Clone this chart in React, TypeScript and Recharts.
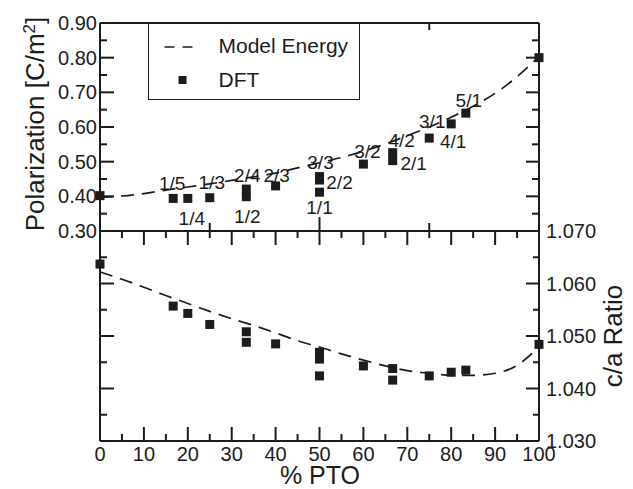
import React from 'react';
import { ComposedChart, Line, Scatter, XAxis, YAxis, Legend } from 'recharts';

const FONT = '"Liberation Sans", Arial, Helvetica, sans-serif';
const INK = '#1c1c1c';

// DFT supercells: % PTO, polarization (C/m^2), c/a ratio, layering label
const dftPto = [0, 16.67, 20, 25, 33.33, 33.33, 40, 50, 50, 50, 60, 66.67, 66.67, 75, 80, 83.33, 100];
const dftPolarization = [0.402, 0.394, 0.394, 0.396, 0.421, 0.399, 0.430, 0.457, 0.447, 0.412, 0.493, 0.526, 0.503, 0.568, 0.609, 0.640, 0.800];
const dftCaRatio = [1.0637, 1.0557, 1.0543, 1.0522, 1.0508, 1.0488, 1.0485, 1.0469, 1.0456, 1.0424, 1.0443, 1.0438, 1.0416, 1.0424, 1.0431, 1.0435, 1.0484];
const dftLabels = ['', '1/5', '1/4', '1/3', '2/4', '1/2', '2/3', '3/3', '2/2', '1/1', '3/2', '4/2', '2/1', '3/1', '4/1', '5/1', ''];

// model energy curves
const modelPto = [0, 5, 10, 15, 20, 25, 30, 35, 40, 45, 50, 55, 60, 65, 70, 75, 80, 85, 90, 95, 100];
const modelPolarization = [0.397, 0.401, 0.408, 0.418, 0.427, 0.436, 0.446, 0.456, 0.467, 0.482, 0.497, 0.512, 0.530, 0.551, 0.575, 0.600, 0.628, 0.660, 0.697, 0.745, 0.803];
const modelCaRatio = [1.0622, 1.0608, 1.0593, 1.0577, 1.0562, 1.0547, 1.0533, 1.0520, 1.0506, 1.0491, 1.0479, 1.0466, 1.0454, 1.0443, 1.0434, 1.0429, 1.0425, 1.0425, 1.0429, 1.0444, 1.0480];

// ticks
const ptoTicks = [0, 5, 10, 15, 20, 25, 30, 35, 40, 45, 50, 55, 60, 65, 70, 75, 80, 85, 90, 95, 100];
const ptoTicksTop = [25, 50, 75];
const polTicks = [0.3, 0.35, 0.4, 0.45, 0.5, 0.55, 0.6, 0.65, 0.7, 0.75, 0.8, 0.85, 0.9];
const caTicks = [1.03, 1.035, 1.04, 1.045, 1.05, 1.055, 1.06, 1.065, 1.07];

// where each layering label sits relative to its marker
const labelPlacement: Record<string, { dx: number; dy: number }> = {
  '1/5': { dx: -1, dy: -15 },
  '1/4': { dx: 4, dy: 20 },
  '1/3': { dx: 2, dy: -15 },
  '2/4': { dx: 1, dy: -14 },
  '1/2': { dx: 1, dy: 20 },
  '2/3': { dx: 1, dy: -11 },
  '3/3': { dx: 1, dy: -14 },
  '2/2': { dx: 20, dy: 2 },
  '1/1': { dx: 0, dy: 15 },
  '3/2': { dx: 4, dy: -13 },
  '4/2': { dx: 9, dy: -12 },
  '2/1': { dx: 21, dy: 3 },
  '3/1': { dx: 3, dy: -17 },
  '4/1': { dx: 2, dy: 17 },
  '5/1': { dx: 3, dy: -13 },
};

const dftTop = dftPto.map((x, i) => ({ x, v: dftPolarization[i], label: dftLabels[i] }));
const dftBottom = dftPto.map((x, i) => ({ x, v: dftCaRatio[i], label: '' }));
const modelTop = modelPto.map((x, i) => ({ x, v: modelPolarization[i] }));
const modelBottom = modelPto.map((x, i) => ({ x, v: modelCaRatio[i] }));

const isMult = (v: number, step: number) => Math.abs(v / step - Math.round(v / step)) < 1e-6;

type Side = 'left' | 'right' | 'top' | 'bottom';

// ticks point into the frame, labels sit outside it
const frameTick = (
  side: Side,
  step: number,
  majorLen: number,
  minorLen: number,
  fmt?: (v: number) => string
) => (props: any) => {
  const { x, y, payload } = props;
  const v = payload.value;
  const major = isMult(v, step);
  const len = major ? majorLen : minorLen;
  const txt = fmt && major ? fmt(v) : null;
  let line = null;
  let text = null;
  if (side === 'left') {
    line = <line x1={x} y1={y} x2={x + len} y2={y} />;
    if (txt) text = <text x={x - 3} y={y + 7} textAnchor="end">{txt}</text>;
  } else if (side === 'right') {
    line = <line x1={x} y1={y} x2={x - len} y2={y} />;
    if (txt) text = <text x={x + 7} y={y + 7} textAnchor="start">{txt}</text>;
  } else if (side === 'bottom') {
    line = <line x1={x} y1={y} x2={x} y2={y - len} />;
    if (txt) text = <text x={x} y={y + 20} textAnchor="middle">{txt}</text>;
  } else {
    line = <line x1={x} y1={y} x2={x} y2={y + len} />;
  }
  return (
    <g>
      <g stroke={INK} strokeWidth={2}>{len > 0 ? line : null}</g>
      <g fill={INK} fontSize={20} fontFamily={FONT}>{text}</g>
    </g>
  );
};

const frameLine = { stroke: INK, strokeWidth: 2 };
const axisCommon = {
  type: 'number' as const,
  interval: 0 as const,
  tickSize: 0,
  tickMargin: 0,
  tickLine: false,
  axisLine: frameLine,
};

const DftMarker = (props: any) => {
  const { cx, cy, payload } = props;
  const place = payload && payload.label ? labelPlacement[payload.label] : null;
  return (
    <g>
      <rect x={cx - 4.5} y={cy - 4.5} width={9} height={9} fill={INK} />
      {place && (
        <text x={cx + place.dx} y={cy + place.dy + 6.7} textAnchor="middle" fontSize={19} fontFamily={FONT} fill={INK}>
          {payload.label}
        </text>
      )}
    </g>
  );
};

const renderLegend = () => (
  <div style={{ width: 210, height: 75, border: `1.5px solid ${INK}`, background: '#fff', position: 'relative' }}>
    <svg width={210} height={75} style={{ position: 'absolute', left: 0, top: 0 }}>
      <line x1={15.5} x2={43.5} y1={23} y2={23} stroke={INK} strokeWidth={1.7} strokeDasharray="10 8" />
      <rect x={29.5} y={52} width={8} height={8} fill={INK} />
      <text x={69.5} y={28.5} fontSize={21} fontFamily={FONT} fill={INK}>Model Energy</text>
      <text x={69.5} y={62.7} fontSize={21} fontFamily={FONT} fill={INK}>DFT</text>
    </svg>
  </div>
);

const polTitle = () => (
  <text transform="rotate(-90, 44, 124)" x={44} y={124} textAnchor="middle" fontSize={26} fontFamily={FONT} fill={INK}>
    Polarization [C/m<tspan dy={-9} fontSize={17}>2</tspan><tspan dy={9}>]</tspan>
  </text>
);

const caTitle = () => (
  <text transform="rotate(-90, 622, 336)" x={622} y={336} textAnchor="middle" fontSize={26} fontFamily={FONT} fill={INK}>
    c/a Ratio
  </text>
);

const ptoTitle = () => (
  <text x={320} y={483.5} textAnchor="middle" fontSize={25} fontFamily={FONT} fill={INK}>
    % PTO
  </text>
);

export default function App() {
  return (
    <div style={{ position: 'absolute', left: 0, top: 0, width: 633, height: 489, background: '#fff', fontFamily: FONT }}>
      {/* lower panel: c/a ratio */}
      <div style={{ position: 'absolute', left: 0, top: 0 }}>
        <ComposedChart width={633} height={489} margin={{ top: 221, right: 44, bottom: 38, left: 50 }}>
          <XAxis {...axisCommon} xAxisId="b" dataKey="x" orientation="bottom" height={10} domain={[0, 100]} ticks={ptoTicks}
            tick={frameTick('bottom', 10, 14, 7, (v) => String(v))} label={ptoTitle} />
          <XAxis {...axisCommon} xAxisId="t" dataKey="x" orientation="top" height={10} domain={[0, 100]} ticks={ptoTicks}
            tick={frameTick('top', 10, 14, 7)} />
          <YAxis {...axisCommon} yAxisId="l" dataKey="v" orientation="left" width={50} domain={[1.03, 1.07]} ticks={caTicks}
            tick={frameTick('left', 0.01, 14, 7)} />
          <YAxis {...axisCommon} yAxisId="r" dataKey="v" orientation="right" width={50} domain={[1.03, 1.07]} ticks={caTicks}
            tick={frameTick('right', 0.01, 13, 6, (v) => v.toFixed(3))} label={caTitle} />
          {/* invisible twin so the top/right frame axes get a domain */}
          <Line xAxisId="t" yAxisId="r" data={modelBottom} dataKey="v" stroke="none" dot={false} activeDot={false}
            legendType="none" isAnimationActive={false} />
          <Line xAxisId="b" yAxisId="l" data={modelBottom} dataKey="v" type="monotone" stroke={INK} strokeWidth={1.7}
            strokeDasharray="13 8" dot={false} activeDot={false} isAnimationActive={false} />
          <Scatter xAxisId="b" yAxisId="l" data={dftBottom} dataKey="v" shape={DftMarker} isAnimationActive={false} />
        </ComposedChart>
      </div>
      {/* upper panel: polarization */}
      <div style={{ position: 'absolute', left: 0, top: 0 }}>
        <ComposedChart width={633} height={260} margin={{ top: 13, right: 44, bottom: 19, left: 50 }}>
          <XAxis {...axisCommon} xAxisId="b" dataKey="x" orientation="bottom" height={10} domain={[0, 100]} ticks={ptoTicksTop}
            tick={frameTick('bottom', 50, 14, 8)} />
          <XAxis {...axisCommon} xAxisId="t" dataKey="x" orientation="top" height={10} domain={[0, 100]} ticks={ptoTicksTop}
            tick={frameTick('top', 50, 14, 7)} />
          <YAxis {...axisCommon} yAxisId="l" dataKey="v" orientation="left" width={50} domain={[0.3, 0.9]} ticks={polTicks}
            tick={frameTick('left', 0.1, 14, 7, (v) => v.toFixed(2))} label={polTitle} />
          <YAxis {...axisCommon} yAxisId="r" dataKey="v" orientation="right" width={50} domain={[0.3, 0.9]} ticks={polTicks}
            tick={frameTick('right', 0.1, 13, 7)} />
          <Line xAxisId="t" yAxisId="r" data={modelTop} dataKey="v" stroke="none" dot={false} activeDot={false}
            legendType="none" isAnimationActive={false} />
          <Line xAxisId="b" yAxisId="l" data={modelTop} dataKey="v" type="monotone" stroke={INK} strokeWidth={1.7}
            strokeDasharray="13 8" dot={false} activeDot={false} isAnimationActive={false} />
          <Scatter xAxisId="b" yAxisId="l" data={dftTop} dataKey="v" shape={DftMarker} isAnimationActive={false} />
          <Legend layout="vertical" align="center" verticalAlign="middle" content={renderLegend}
            wrapperStyle={{ left: 148, top: 22.5, width: 'auto', height: 'auto' }} />
        </ComposedChart>
      </div>
    </div>
  );
}
